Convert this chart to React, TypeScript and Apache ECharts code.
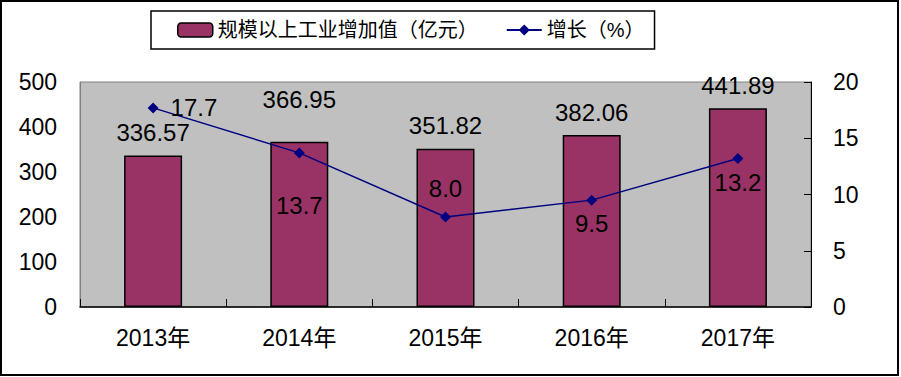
import React, { useEffect, useRef } from "react";
import * as echarts from "echarts";

const categories = ["2013年", "2014年", "2015年", "2016年", "2017年"];
const valueAdded = [336.57, 366.95, 351.82, 382.06, 441.89];
const growth = [17.7, 13.7, 8.0, 9.5, 13.2];
const barLabelOffsets = [[0, 1], [0, -18], [0, 1], [0, 1], [0, 1]];
const lineLabelPos = ["right", "bottom", "top", "bottom", "bottom"];
const lineLabelOffsets = [[4, 0], [0, 27], [0, -3], [0, -2], [0, -2]];

export default function App() {
  const ref = useRef<HTMLDivElement>(null);
  useEffect(() => {
    document.body.style.margin = "0";
    const chart = echarts.init(ref.current!, null, { renderer: "svg" });
    const font = "Arial, 'Liberation Sans', 'Noto Sans CJK SC', sans-serif";
    chart.setOption({
      animation: false,
      textStyle: { fontFamily: font },
      legend: {
        left: 151,
        top: 11,
        width: 510,
        height: 38,
        padding: [9, 10, 9, 26],
        itemGap: 28,
        borderColor: "#000",
        borderWidth: 1.5,
        itemWidth: 35,
        itemHeight: 14,
        textStyle: { fontSize: 20, color: "#000", fontFamily: font },
        data: [
          { name: "规模以上工业增加值（亿元）", itemStyle: { borderColor: "#000", borderWidth: 1.5 } },
          { name: "增长（%）" },
        ],
      },
      graphic: [
        {
          type: "rect",
          shape: { x: 1, y: 1, width: 897, height: 374 },
          style: { fill: "none", stroke: "#000", lineWidth: 2 },
          silent: true,
        },
      ],
      grid: {
        left: 80,
        right: 90,
        top: 82,
        bottom: 70,
        show: true,
        backgroundColor: "#c0c0c0",
        borderColor: "#808080",
        borderWidth: 1,
      },
      xAxis: {
        type: "category",
        data: categories,
        axisLine: { lineStyle: { color: "#000", width: 1.5 } },
        axisTick: { show: true, inside: true, length: 8, lineStyle: { color: "#000" } },
        axisLabel: { fontSize: 23, color: "#000", margin: 19 },
      },
      yAxis: [
        {
          type: "value",
          min: 0,
          max: 500,
          interval: 100,
          axisLine: { show: true, lineStyle: { color: "#808080" } },
          axisTick: { show: false },
          splitLine: { show: false },
          axisLabel: { fontSize: 23, color: "#000", margin: 23 },
        },
        {
          type: "value",
          min: 0,
          max: 20,
          interval: 5,
          position: "right",
          axisLine: { show: true, lineStyle: { color: "#000" } },
          axisTick: { show: true, inside: true, length: 7, lineStyle: { color: "#000" } },
          splitLine: { show: false },
          axisLabel: { fontSize: 23, color: "#000", margin: 22 },
        },
      ],
      series: [
        {
          name: "规模以上工业增加值（亿元）",
          type: "bar",
          barWidth: 58,
          yAxisIndex: 0,
          itemStyle: { color: "#993366", borderColor: "#000", borderWidth: 1.5 },
          label: { show: true, position: "top", distance: 12, fontSize: 24, color: "#000" },
          data: valueAdded.map((v, i) => ({
            value: v,
            label: { offset: barLabelOffsets[i] },
          })),
        },
        {
          name: "增长（%）",
          type: "line",
          yAxisIndex: 1,
          symbol: "diamond",
          symbolSize: 11,
          lineStyle: { color: "#000080", width: 1.5 },
          itemStyle: { color: "#000080" },
          label: {
            show: true,
            fontSize: 24,
            color: "#000",
            distance: 8,
            formatter: (p: any) => Number(p.value).toFixed(1),
          },
          data: growth.map((v, i) => ({
            value: v,
            label: { position: lineLabelPos[i], offset: lineLabelOffsets[i] },
          })),
        },
      ],
    });
    return () => chart.dispose();
  }, []);
  return <div ref={ref} style={{ width: 901, height: 377 }} />;
}
